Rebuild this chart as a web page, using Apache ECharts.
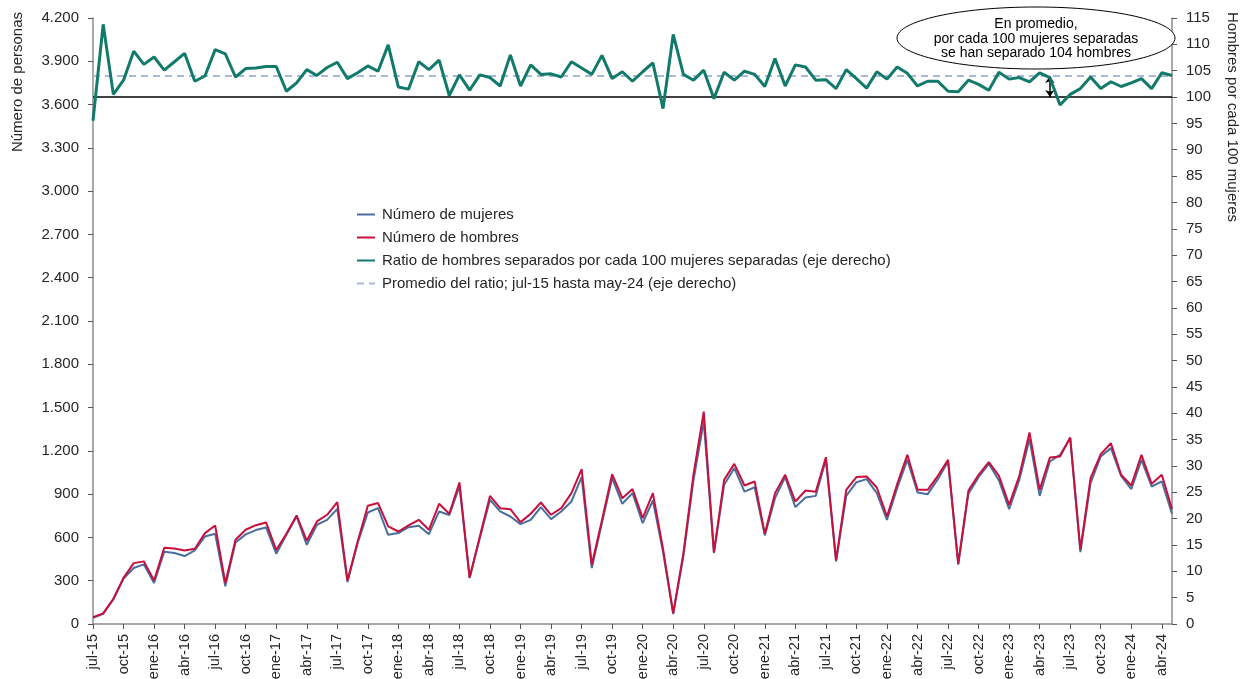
<!DOCTYPE html>
<html>
<head>
<meta charset="utf-8">
<script src="https://cdn.jsdelivr.net/npm/echarts@6/dist/echarts.min.js"></script>
<style>
  html, body { margin: 0; padding: 0; background: #fff; }
  #chart { width: 1247px; height: 679px; }
</style>
</head>
<body>
<div id="chart"></div>
<script>
// meses jul-15 .. may-24
const monthNames = ['ene', 'feb', 'mar', 'abr', 'may', 'jun', 'jul', 'ago', 'sep', 'oct', 'nov', 'dic'];
const categories = [];
for (let y = 2015, m = 6; y < 2024 || (y === 2024 && m <= 4); m++) {
  if (m === 12) { m = 0; y++; }
  categories.push(monthNames[m] + '-' + String(y).slice(2));
}

const mujeres = [
  42, 70, 170, 315, 388, 413, 284, 501, 492, 471, 510, 607, 625, 261, 565, 621, 651, 669, 487, 618,
  745, 549, 688, 722, 798, 291, 561, 773, 803,
  618, 630, 671, 681, 623, 780, 755, 953, 318, 595, 861, 780, 745, 692, 722, 810, 727, 780, 849, 1018,
  388, 700, 1011, 833, 907, 699, 856,
  500, 68, 470, 1000, 1403, 492, 965, 1080, 918, 948, 614, 872, 1018, 810, 877, 888, 1138, 434, 888, 983,
  1004, 907, 722, 942, 1138, 912, 900, 1004, 1126, 411, 902, 1018, 1110, 995, 796, 999, 1281, 888, 1126, 1172,
  1288, 498, 976, 1161, 1219, 1027, 935, 1138, 953, 988, 764
];

const hombres = [
  47, 74, 175, 320, 422, 434, 302, 528, 524, 510, 522, 630, 683, 284, 584, 653, 685, 704, 512, 625,
  752, 577, 711, 757, 845, 302, 572, 819, 838,
  676, 641, 683, 722, 653, 833, 764, 981, 323, 607, 888, 803, 796, 706, 764, 842, 757, 803, 907, 1073,
  411, 720, 1038, 872, 935, 734, 907,
  520, 76, 490, 1040, 1472, 496, 999, 1110, 960, 988, 625, 907, 1034, 849, 925, 916, 1156, 441, 930, 1018,
  1022, 946, 745, 969, 1172, 930, 930, 1027, 1138, 418, 925, 1034, 1122, 1027, 826, 1027, 1327, 930, 1154, 1161,
  1292, 515, 1011, 1177, 1253, 1034, 960, 1172, 972, 1034, 796
];

const ratio = [
  95.5, 113.8, 100.5, 103.2, 108.7, 106.2, 107.6, 105.1, 106.7, 108.3, 103.0, 104.0, 109.0, 108.2, 103.8,
  105.4, 105.5, 105.8, 105.8, 101.1, 102.7, 105.2, 104.1, 105.6, 106.6, 103.5, 104.6, 105.9, 104.9,
  109.9, 101.9, 101.5, 106.7, 105.2, 107.0, 100.3, 104.2, 101.3, 104.2, 103.7, 102.1, 108.0, 102.1, 106.1,
  104.3, 104.4, 103.8, 106.7, 105.5, 104.3, 107.9, 103.5, 104.8, 103.0, 104.8, 106.5,
  97.8, 111.9, 104.3, 103.2, 105.1, 99.7, 104.7, 103.2, 104.9, 104.3, 102.0, 107.3, 102.1, 106.1, 105.7,
  103.2, 103.3, 101.6, 105.2, 103.5, 101.7, 104.8,
  103.4, 105.7, 104.5, 102.1, 103.0, 103.0, 101.1, 101.0, 103.2, 102.4, 101.3, 104.7, 103.4, 103.7, 102.9,
  104.6, 103.7, 98.5, 100.5, 101.6, 103.8, 101.6, 102.9, 102.0, 102.7, 103.5, 101.6, 104.6, 104.1
];

const ratioPromedio = 104;
const ratioBase = 100;
const flechaMes = 'may-23';

const leftTicks = { min: 0, max: 4200, interval: 300 };
const rightTicks = { min: 0, max: 115, interval: 5 };

const nombres = [
  'Número de mujeres',
  'Número de hombres',
  'Ratio de hombres separados por cada 100 mujeres separadas (eje derecho)',
  'Promedio del ratio; jul-15 hasta may-24 (eje derecho)'
];

const FONT = '"Liberation Sans", Arial, sans-serif';
const TXT = '#262626';
const AXIS = '#8c8c8c';

const chart = echarts.init(document.getElementById('chart'));

const option = {
  animation: false,
  textStyle: { fontFamily: FONT },
  grid: { left: 93, right: 75, top: 18, bottom: 55, containLabel: false, outerBoundsMode: 'none' },
  legend: {
    orient: 'vertical',
    left: 351,
    top: 202,
    itemWidth: 18,
    itemHeight: 14,
    itemGap: 8,
    itemStyle: { opacity: 0 },
    textStyle: { fontSize: 15, color: TXT, fontFamily: FONT, padding: [0, 0, 0, 2] },
    data: nombres
  },
  xAxis: {
    type: 'category',
    data: categories,
    boundaryGap: false,
    axisLine: { lineStyle: { color: AXIS, width: 1.5 } },
    axisTick: { interval: 2, length: 5, lineStyle: { color: '#555' } },
    axisLabel: { interval: 2, rotate: 90, fontSize: 14.5, color: TXT, margin: 10 },
    splitLine: { show: false }
  },
  yAxis: [
    {
      type: 'value',
      min: leftTicks.min,
      max: leftTicks.max,
      interval: leftTicks.interval,
      axisLine: { show: true, lineStyle: { color: AXIS, width: 1.5 } },
      axisTick: { show: true, length: 5, lineStyle: { color: '#555' } },
      axisLabel: {
        fontSize: 15,
        color: TXT,
        margin: 14,
        formatter: v => String(v).replace(/^(\d)(\d{3})$/, '$1.$2')
      },
      splitLine: { show: false }
    },
    {
      type: 'value',
      position: 'right',
      min: rightTicks.min,
      max: rightTicks.max,
      interval: rightTicks.interval,
      axisLine: { show: true, lineStyle: { color: AXIS, width: 1.5 } },
      axisTick: { show: true, length: 5, lineStyle: { color: '#555' } },
      axisLabel: { fontSize: 15, color: TXT, margin: 14 },
      splitLine: { show: false }
    }
  ],
  series: [
    {
      name: nombres[0],
      type: 'line',
      data: mujeres,
      symbol: 'none',
      lineStyle: { color: '#4a6e9e', width: 2 },
      itemStyle: { color: '#4a6e9e' },
      z: 3
    },
    {
      name: nombres[1],
      type: 'line',
      data: hombres,
      symbol: 'none',
      lineStyle: { color: '#c8103c', width: 2 },
      itemStyle: { color: '#c8103c' },
      z: 4
    },
    {
      name: nombres[2],
      type: 'line',
      yAxisIndex: 1,
      data: ratio,
      symbol: 'none',
      lineStyle: { color: '#127a6b', width: 3 },
      itemStyle: { color: '#127a6b' },
      z: 5,
      markLine: {
        silent: true,
        symbol: 'none',
        label: { show: false },
        lineStyle: { color: '#000', width: 1.5, type: 'solid' },
        data: [
          { yAxis: ratioBase },
          [
            { coord: [flechaMes, ratioPromedio], symbol: 'arrow', symbolSize: 7 },
            { coord: [flechaMes, ratioBase], symbol: 'arrow', symbolSize: 7 }
          ]
        ]
      }
    },
    {
      name: nombres[3],
      type: 'line',
      yAxisIndex: 1,
      data: categories.map(() => ratioPromedio),
      symbol: 'none',
      lineStyle: { color: '#a9b9d7', width: 2, type: [7, 5] },
      itemStyle: { color: '#a9b9d7' },
      z: 2
    }
  ],
  graphic: [
    {
      type: 'text',
      left: 10,
      top: 12,
      rotation: Math.PI / 2,
      style: { text: 'Número de personas', font: '15px ' + FONT, fill: TXT }
    },
    {
      type: 'text',
      left: 1225,
      top: 12,
      rotation: -Math.PI / 2,
      style: { text: 'Hombres por cada 100 mujeres', font: '15px ' + FONT, fill: TXT }
    },
    {
      type: 'ellipse',
      shape: { cx: 1036, cy: 38, rx: 139, ry: 31 },
      style: { fill: '#fff', stroke: '#000', lineWidth: 1 },
      z: 10
    },
    {
      type: 'text',
      x: 1036,
      y: 17,
      z: 11,
      style: {
        text: 'En promedio,\npor cada 100 mujeres separadas\nse han separado 104 hombres',
        font: '14px ' + FONT,
        fill: '#000',
        align: 'center',
        lineHeight: 14.5
      }
    }
  ]
};

chart.setOption(option);
window.addEventListener('resize', () => chart.resize());
</script>
</body>
</html>
